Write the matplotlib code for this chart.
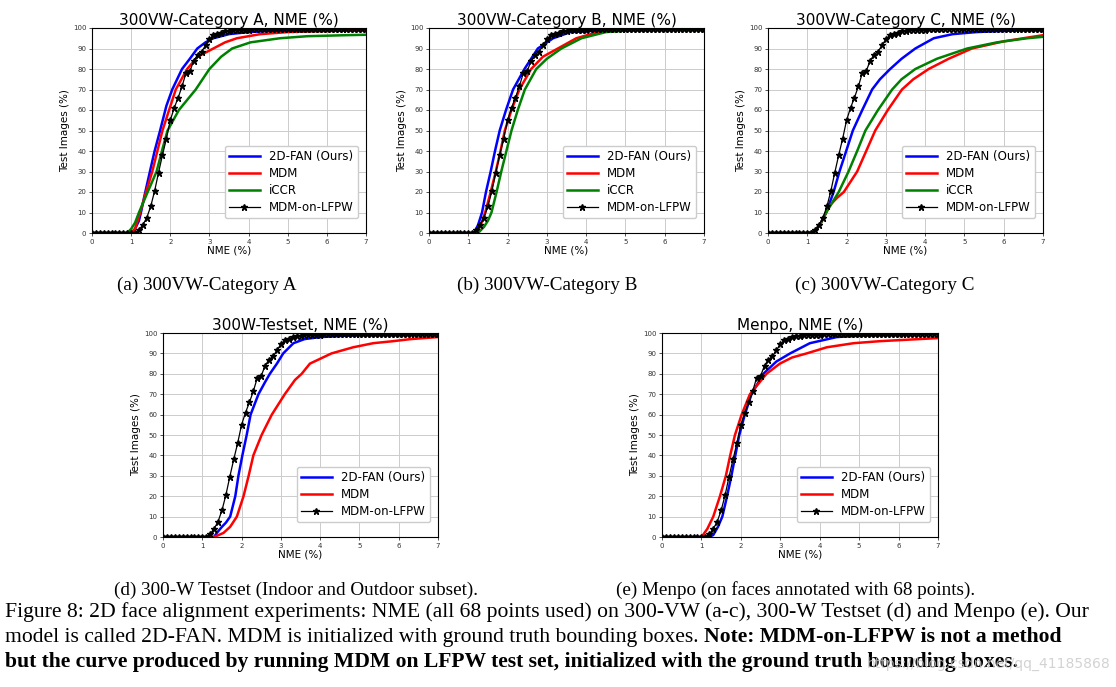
import matplotlib
matplotlib.use("Agg")
import matplotlib.pyplot as plt

# ---------------- data ----------------
lfpw_x = [i / 10 for i in range(71)]
lfpw_y = [0, 0, 0, 0, 0, 0, 0, 0, 0, 0, 0, 0,
          1.5, 4, 7.5, 13, 20.5, 29.5, 38, 46, 55, 61, 66, 71.5, 78, 79, 84, 87, 88.5,
          91.5, 94.5, 96.5, 97.2, 97.8, 98.3, 98.7, 99, 99, 99.1, 99.2, 99.2,
          99.3, 99.3, 99.3, 99.3, 99.3, 99.4, 99.4, 99.4, 99.4, 99.4,
          99.4, 99.4, 99.4, 99.4, 99.4, 99.5, 99.5, 99.5, 99.5, 99.5,
          99.5, 99.5, 99.5, 99.5, 99.5, 99.5, 99.5, 99.5, 99.5, 99.5]

# (a) 300VW Category A
a_fan_x = [0, 1.0, 1.1, 1.2, 1.25, 1.35, 1.48, 1.6, 1.74, 1.9, 2.05, 2.3, 2.5, 2.69, 2.9, 3.1, 3.5, 4.0, 5.0, 7.0]
a_fan_y = [0, 0, 2, 6, 10, 19, 30, 40, 50, 62, 70, 80, 85, 90, 93, 95, 97, 98, 99, 99.5]
a_mdm_x = [0, 1.0, 1.1, 1.23, 1.35, 1.54, 1.67, 1.8, 1.97, 2.14, 2.43, 2.7, 3.1, 3.4, 3.7, 4.3, 5.0, 6.0, 7.0]
a_mdm_y = [0, 0, 2, 10, 18, 30, 40, 50, 60, 70, 80, 86, 90, 93, 95, 97, 98, 98.5, 99]
a_iccr_x = [0, 0.9, 1.0, 1.1, 1.2, 1.4, 1.65, 1.8, 1.93, 2.22, 2.65, 3.0, 3.3, 3.58, 4.05, 4.8, 5.5, 6.5, 7.0]
a_iccr_y = [0, 0, 2, 5, 10, 19, 30, 41, 50, 60, 70, 80, 86, 90, 93, 95, 96, 96.5, 96.7]

# (b) 300VW Category B
b_fan_x = [0, 1.15, 1.25, 1.35, 1.45, 1.57, 1.68, 1.8, 1.96, 2.14, 2.43, 2.77, 3.16, 3.6, 4.5, 7.0]
b_fan_y = [0, 0, 4, 10, 20, 30, 40, 50, 60, 70, 80, 90, 95, 98, 99, 99.3]
b_mdm_x = [0, 1.15, 1.3, 1.43, 1.57, 1.7, 1.82, 1.93, 2.1, 2.3, 2.6, 2.9, 3.28, 3.75, 4.3, 5.0, 7.0]
b_mdm_y = [0, 0, 3, 10, 20, 30, 40, 50, 60, 70, 80, 86, 90, 95, 98, 99, 99.3]
b_iccr_x = [0, 1.25, 1.4, 1.5, 1.59, 1.72, 1.84, 1.97, 2.1, 2.26, 2.44, 2.73, 3.0, 3.37, 3.88, 4.5, 5.2, 7.0]
b_iccr_y = [0, 0, 3, 6, 10, 20, 30, 40, 50, 60, 70, 80, 85, 90, 95, 98, 99, 99.3]

# (c) 300VW Category C
c_fan_x = [0, 1.0, 1.2, 1.35, 1.48, 1.67, 1.82, 1.99, 2.16, 2.4, 2.65, 2.85, 3.11, 3.4, 3.75, 4.22, 4.7, 5.3, 6.5, 7.0]
c_fan_y = [0, 0, 1, 5, 10, 20, 30, 40, 50, 60, 70, 75, 80, 85, 90, 95, 97, 98, 99, 99.2]
c_mdm_x = [0, 1.0, 1.2, 1.35, 1.48, 1.6, 1.75, 1.93, 2.1, 2.27, 2.5, 2.73, 3.05, 3.41, 3.7, 4.09, 4.6, 5.19, 6.0, 7.0]
c_mdm_y = [0, 0, 1, 5, 10, 14, 17, 20, 25, 30, 40, 50, 60, 70, 75, 80, 85, 90, 93.5, 96.5]
c_iccr_x = [0, 1.0, 1.2, 1.35, 1.48, 1.8, 2.05, 2.27, 2.48, 2.8, 3.16, 3.4, 3.75, 4.3, 5.07, 5.83, 6.6, 7.0]
c_iccr_y = [0, 0, 1, 5, 10, 20, 30, 40, 50, 60, 70, 75, 80, 85, 90, 93, 95, 95.7]

# (d) 300-W Testset
d_fan_x = [0, 1.3, 1.37, 1.5, 1.6, 1.71, 1.84, 1.92, 2.02, 2.13, 2.23, 2.43, 2.6, 2.72, 2.9, 3.06, 3.32, 3.6, 4.0, 5.0, 7.0]
d_fan_y = [0, 0, 2, 5, 7, 10, 20, 30, 40, 50, 60, 70, 76, 80, 85, 90, 95, 97, 98, 99, 99.3]
d_mdm_x = [0, 1.3, 1.54, 1.71, 1.88, 2.05, 2.18, 2.3, 2.51, 2.77, 3.1, 3.36, 3.53, 3.74, 4.29, 4.84, 5.35, 5.86, 6.3, 7.0]
d_mdm_y = [0, 0, 2, 5, 10, 20, 30, 40, 50, 60, 70, 77, 80, 85, 90, 93, 95, 96, 97, 98]

# (e) Menpo
e_fan_x = [0, 1.2, 1.3, 1.42, 1.53, 1.65, 1.76, 1.86, 1.96, 2.1, 2.27, 2.57, 2.9, 3.25, 3.75, 4.43, 5.3, 7.0]
e_fan_y = [0, 0, 1, 5, 10, 20, 30, 40, 50, 60, 70, 80, 86, 90, 95, 98, 99, 99.5]
e_mdm_x = [0, 1.0, 1.04, 1.15, 1.3, 1.47, 1.62, 1.73, 1.85, 2.02, 2.23, 2.65, 2.99, 3.3, 3.67, 4.18, 4.86, 5.53, 7.0]
e_mdm_y = [0, 0, 1, 4, 10, 20, 30, 40, 50, 60, 70, 80, 85, 88, 90, 93, 95, 96, 97.5]

titles = ["300VW-Category A, NME (%)", "300VW-Category B, NME (%)", "300VW-Category C, NME (%)",
          "300W-Testset, NME (%)", "Menpo, NME (%)"]
subcaptions = ["(a) 300VW-Category A", "(b) 300VW-Category B", "(c) 300VW-Category C",
               "(d) 300-W Testset (Indoor and Outdoor subset).",
               "(e) Menpo (on faces annotated with 68 points)."]
labels = ["2D-FAN (Ours)", "MDM", "iCCR", "MDM-on-LFPW"]
x_ticks = [0, 1, 2, 3, 4, 5, 6, 7]
y_ticks = [0, 10, 20, 30, 40, 50, 60, 70, 80, 90, 100]

panels = [
    [(a_fan_x, a_fan_y), (a_mdm_x, a_mdm_y), (a_iccr_x, a_iccr_y)],
    [(b_fan_x, b_fan_y), (b_mdm_x, b_mdm_y), (b_iccr_x, b_iccr_y)],
    [(c_fan_x, c_fan_y), (c_mdm_x, c_mdm_y), (c_iccr_x, c_iccr_y)],
    [(d_fan_x, d_fan_y), (d_mdm_x, d_mdm_y)],
    [(e_fan_x, e_fan_y), (e_mdm_x, e_mdm_y)],
]
colors = ["#0000ff", "#ff0000", "#008000"]

# ---------------- layout ----------------
fig = plt.figure(figsize=(11.16, 6.87), dpi=100)
W, H = 1116, 687
boxes = [(92, 366, 28, 233), (429, 704, 28, 233), (768, 1043, 28, 233),
         (163, 438, 333, 537), (662, 938, 333, 537)]
cap_pos = [(207, 285), (547, 285), (885, 285), (296, 590), (796, 590)]

for i, (l, r, t, b) in enumerate(boxes):
    ax = fig.add_axes([l / W, 1 - b / H, (r - l) / W, (b - t) / H])
    for j, (xs, ys) in enumerate(panels[i]):
        ax.plot(xs, ys, color=colors[j], lw=1.8, label=labels[j])
    ax.plot(lfpw_x, lfpw_y, color="black", lw=0.9, marker="*", ms=4.5,
            label=labels[3])
    ax.set_xlim(0, 7)
    ax.set_ylim(0, 100)
    ax.set_xticks(x_ticks)
    ax.set_yticks(y_ticks)
    ax.tick_params(labelsize=5, length=2, width=0.6, pad=2, colors="#333333")
    ax.grid(True, color="#cccccc", lw=0.7)
    ax.set_axisbelow(True)
    for s in ax.spines.values():
        s.set_linewidth(0.8)
    ax.set_title(titles[i], fontsize=11, pad=2)
    ax.set_xlabel("NME (%)", fontsize=7.5, labelpad=1)
    ax.set_ylabel("Test Images (%)", fontsize=7.5, labelpad=2)
    ax.legend(loc="lower right", bbox_to_anchor=(1 - 8 / (r - l), 15 / (b - t)),
              borderaxespad=0, fontsize=8.5, handlelength=2.6, framealpha=1,
              edgecolor="#cccccc", borderpad=0.35, labelspacing=0.33)
    cx, cy = cap_pos[i]
    fig.text(cx / W, 1 - cy / H, subcaptions[i], family="Liberation Serif",
             fontsize=13.8, ha="center", va="center")

# ---------------- figure caption ----------------
serif = "Liberation Serif"
fs = 15.6
fig.text(5 / W, 1 - 612 / H,
         "Figure 8: 2D face alignment experiments: NME (all 68 points used) on 300-VW (a-c), "
         "300-W Testset (d) and Menpo (e). Our",
         family=serif, fontsize=fs, va="center", ha="left")
y2 = 1 - 642 / H
t1 = fig.text(5 / W, y2,
              "model is called 2D-FAN. MDM is initialized with ground truth bounding boxes. ",
              family=serif, fontsize=fs, va="baseline", ha="left")
fig.canvas.draw()
bb = t1.get_window_extent(renderer=fig.canvas.get_renderer())
x_end = bb.x1 / fig.bbox.width
fig.text(x_end, y2, "Note: MDM-on-LFPW is not a method",
         family=serif, fontsize=fs, weight="bold", va="baseline", ha="left")
fig.text(5 / W, 1 - 662 / H,
         "but the curve produced by running MDM on LFPW test set, initialized with the "
         "ground truth bounding boxes.",
         family=serif, fontsize=fs, weight="bold", va="center", ha="left")
fig.text(1110 / W, 1 - 664 / H, "https://blog.csdn.net/qq_41185868", fontsize=10,
         color="#c8c8c8", ha="right", va="center", alpha=0.8)

fig.savefig("out.png", dpi=100)
